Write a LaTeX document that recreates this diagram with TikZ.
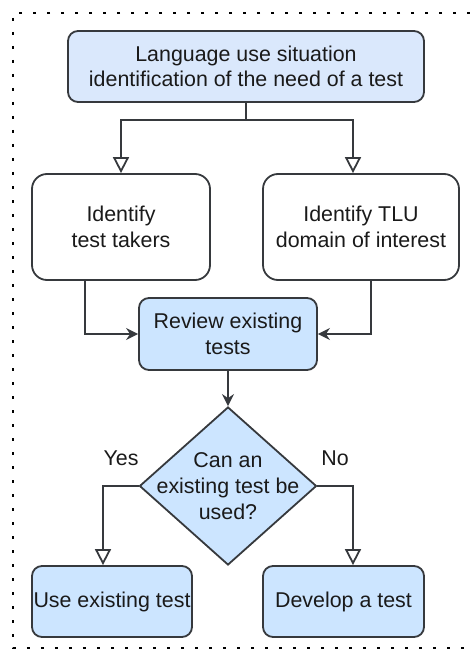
\documentclass[tikz,border=0pt]{standalone}
\usepackage{fontspec}
\setmainfont{Liberation Sans}
\usetikzlibrary{arrows.meta,shapes.geometric,positioning}
\definecolor{topfill}{HTML}{DAE8FC}
\definecolor{bluefill}{HTML}{CCE5FF}
\definecolor{edge}{HTML}{36393D}
\definecolor{ink}{HTML}{1A1A1A}

\begin{document}
\begin{tikzpicture}[x=1pt, y=-1pt,
    every node/.style={font=\fontsize{21.4}{25.7}\selectfont, text=ink},
    box/.style={draw=edge, line width=1.8pt, rounded corners=10pt, align=center, inner sep=0pt},
    whitebox/.style={box, rounded corners=15pt, fill=white, minimum height=106pt},
    bluebox/.style={box, fill=bluefill, minimum height=71pt},
    dec/.style={draw=edge, line width=1.8pt, diamond, fill=bluefill, minimum width=177pt, minimum height=158pt, inner sep=0pt},
    dtext/.style={align=center, inner sep=0pt},
    arr/.style={draw=edge, line width=1.8pt, -{Stealth[length=12pt, width=12pt, inset=4pt]}},
    oarr/.style={draw=edge, line width=1.8pt, -{Triangle[length=16pt, width=16pt, fill=white]}},
    lbl/.style={inner sep=0pt},
    dots/.style={line width=2.6pt, dash pattern=on 2.6pt off 11.4pt}
]
\useasboundingbox (0,0) rectangle (470,650);

% dotted frame
\draw[dots] (470,13) -- (13,13) -- (13,648) -- (470,648);

\node[box, fill=topfill, minimum width=356pt, minimum height=71pt] (sit) at (246,66.5) {Language use situation\\identification of the need of a test};
\node[whitebox, minimum width=178pt] (takers) at (121,227) {Identify\\test takers};
\node[whitebox, minimum width=196pt] (tlu) at (361,227) {Identify TLU\\domain of interest};
\node[bluebox, minimum width=178pt, minimum height=72pt] (review) at (228,334) {Review existing\\tests};
\node[dec, label={[dtext]center:Can an\\existing test be\\used?}] (can) at (228,486) {};
\node[lbl] (yes) at (121,458) {Yes};
\node[lbl] (no) at (335,458) {No};
\node[bluebox, minimum width=160pt] (use) at (112,601.5) {Use existing test};
\node[bluebox, minimum width=161pt] (dev) at (343.5,601.5) {Develop a test};

\draw[oarr] (sit.south) -- ++(0,17) -| (takers.north);
\draw[oarr] (sit.south) -- ++(0,17) -| ([xshift=-8pt]tlu.north);
\draw[arr] ([xshift=-36pt]takers.south) |- (review.west);
\draw[arr] ([xshift=10pt]tlu.south) |- (review.east);
\draw[arr] (review.south) -- (can.north);
\draw[oarr] (can.west) -| ([xshift=-9pt]use.north);
\draw[oarr] (can.east) -| ([xshift=9.5pt]dev.north);
\end{tikzpicture}
\end{document}
